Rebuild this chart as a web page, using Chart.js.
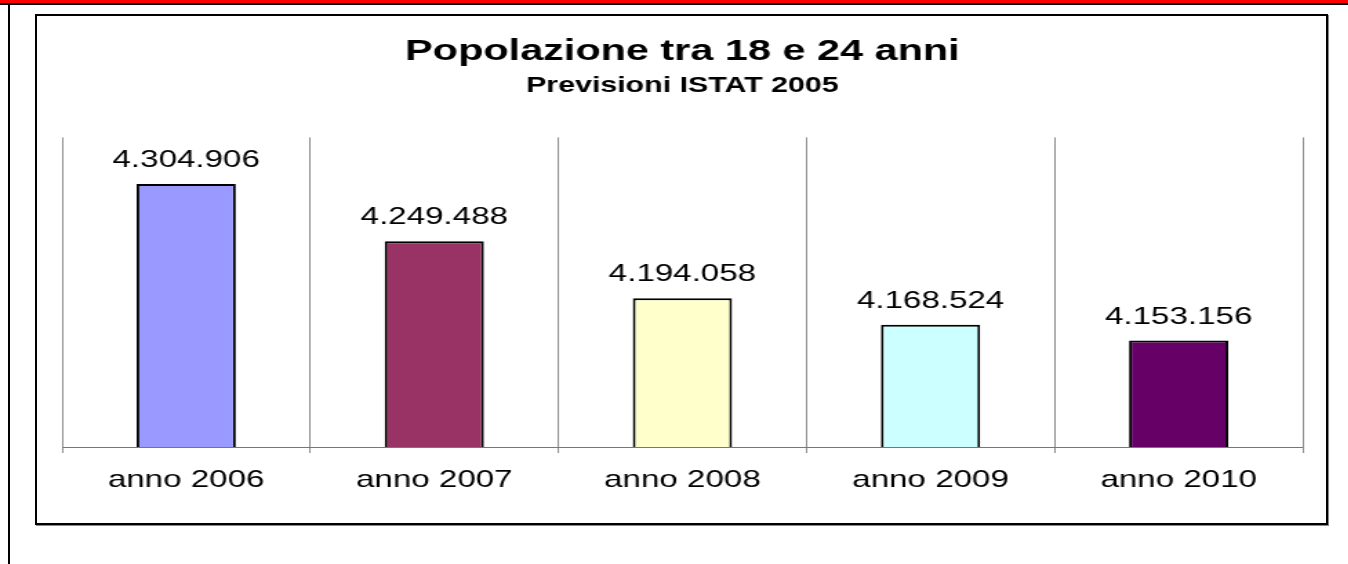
<!DOCTYPE html>
<html lang="it">
<head>
  <meta charset="UTF-8">
  <title>Popolazione tra 18 e 24 anni</title>
  <!-- Chart.js dal CDN -->
  <script src="https://cdn.jsdelivr.net/npm/chart.js"></script>
  <style>
    html, body {
      margin: 0;
      padding: 0;
      background: #fff;
      width: 1348px;
      height: 564px;
      overflow: hidden;
      position: relative;
    }
    #barra-rossa {
      position: absolute; left: 0; top: 0;
      width: 1348px; height: 3px;
      background: #ff0000;
      border-bottom: 2px solid #000;
    }
    #linea-sinistra {
      position: absolute; left: 8px; top: 5px;
      width: 2px; height: 559px;
      background: #000;
    }
    #cornice {
      position: absolute; left: 35px; top: 14px;
      width: 1289px; height: 507px;
      border: 2px solid #000;
      box-shadow: 1px 1px 0 #888;
    }
    /* il grafico originale è "stirato" in orizzontale */
    #chart-container {
      position: absolute; left: 0; top: 0;
      width: 977px; height: 564px;
      transform: scaleX(1.38);
      transform-origin: 0 0;
    }
  </style>
</head>
<body>
  <div id="barra-rossa"></div>
  <div id="linea-sinistra"></div>
  <div id="cornice"></div>

  <div id="chart-container">
    <canvas id="popChart" width="977" height="564"></canvas>
  </div>

  <script>
    // Dati (previsioni ISTAT 2005)
    const anni = ["anno 2006", "anno 2007", "anno 2008", "anno 2009", "anno 2010"];
    const popolazione = [4304906, 4249488, 4194058, 4168524, 4153156];
    const coloriBarre = ["#9999ff", "#993366", "#ffffcc", "#ccffff", "#660066"];

    const FONT = "Arial, 'Liberation Sans', sans-serif";

    // formato italiano: 4.304.906
    const formatta = n => n.toString().replace(/\B(?=(\d{3})+(?!\d))/g, ".");

    // Plugin per scrivere i valori sopra le barre
    const etichetteValori = {
      id: "etichetteValori",
      afterDatasetsDraw(chart) {
        const ctx = chart.ctx;
        const meta = chart.getDatasetMeta(0);
        ctx.save();
        ctx.font = "24px " + FONT;
        ctx.fillStyle = "#000";
        ctx.textAlign = "center";
        ctx.textBaseline = "alphabetic";
        meta.data.forEach((bar, i) => {
          ctx.fillText(formatta(popolazione[i]), bar.x, bar.y - 17);
        });
        ctx.restore();
      }
    };

    const ctx = document.getElementById("popChart").getContext("2d");
    new Chart(ctx, {
      type: "bar",
      data: {
        labels: anni,
        datasets: [{
          data: popolazione,
          backgroundColor: coloriBarre,
          borderColor: "#000",
          borderWidth: 2,
          borderSkipped: false,
          categoryPercentage: 1.0,
          barPercentage: 0.4
        }]
      },
      options: {
        responsive: false,
        devicePixelRatio: 1,
        animation: false,
        layout: {
          padding: { left: 45, right: 33, top: 0, bottom: 0 }
        },
        plugins: {
          legend: { display: false },
          tooltip: { enabled: false },
          title: {
            display: true,
            fullSize: false,
            text: "Popolazione tra 18 e 24 anni",
            color: "#000",
            font: { family: FONT, size: 30, weight: "bold" },
            padding: { top: 34, bottom: 3 }
          },
          subtitle: {
            display: true,
            fullSize: false,
            text: "Previsioni ISTAT 2005",
            color: "#000",
            font: { family: FONT, size: 22, weight: "bold" },
            padding: { top: 0, bottom: 38 }
          }
        },
        scales: {
          x: {
            offset: true,
            grid: {
              display: true,
              offset: true,
              color: "#666",
              lineWidth: 0.75,
              tickLength: 6,
              tickColor: "#666"
            },
            border: { display: true, color: "#777", width: 1 },
            ticks: {
              color: "#000",
              font: { family: FONT, size: 24 },
              padding: 13,
              maxRotation: 0
            },
            afterFit: scale => { scale.height = 117; }
          },
          y: {
            display: false,
            min: 4050000,
            max: 4350000
          }
        }
      },
      plugins: [etichetteValori]
    });
  </script>
</body>
</html>
